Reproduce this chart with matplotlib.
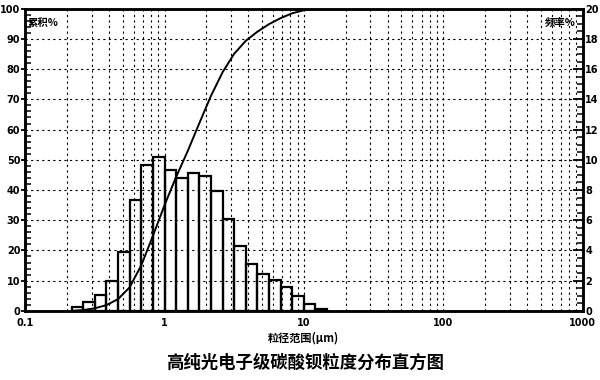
import matplotlib
matplotlib.use('Agg')
import matplotlib.pyplot as plt
from matplotlib.ticker import FixedLocator, MultipleLocator, NullFormatter
import numpy as np

plt.rcParams['font.family'] = ['Noto Sans CJK SC', 'DejaVu Sans']

# bin edges of the histogram (um), 12 bins per decade
edges = [0.215, 0.261, 0.316, 0.383, 0.464, 0.562, 0.681, 0.825, 1.0, 1.21,
         1.47, 1.78, 2.15, 2.61, 3.16, 3.83, 4.64, 5.62, 6.81, 8.25, 10.0,
         12.1, 14.7]
# frequency % per bin (right axis)
freq = [0.25, 0.6, 1.07, 1.95, 3.88, 7.35, 9.65, 10.2, 9.32, 8.77, 9.12,
        8.9, 7.96, 6.05, 4.28, 3.09, 2.43, 2.04, 1.56, 0.99, 0.44, 0.1]
# cumulative % at the bin edges (left axis)
cumul = [0, 0.25, 0.85, 1.9, 3.9, 7.8, 15.1, 24.8, 35.0, 44.3, 53.0, 62.2,
         71.1, 79.0, 85.1, 89.4, 92.4, 94.9, 96.9, 98.5, 99.5, 99.9, 100]

x_ticks = [0.1, 1, 10, 100, 1000]
x_labels = ['0.1', '1', '10', '100', '1000']

fig = plt.figure(figsize=(6, 3.8), dpi=100)
ax = fig.add_axes([0.042, 0.182, 0.929, 0.795])
ax2 = ax.twinx()

# histogram on the frequency axis
lefts = np.array(edges[:-1])
widths = np.array(edges[1:]) - lefts
ax2.bar(lefts, freq, width=widths, align='edge', fill=False,
        edgecolor='black', linewidth=1.6)

# cumulative curve
ax.plot(edges, cumul, color='black', linewidth=1.4, solid_joinstyle='round')

ax.set_xscale('log')
ax.set_xlim(0.1, 1000)
ax.set_ylim(0, 100)
ax2.set_ylim(0, 20)

ax.xaxis.set_major_locator(FixedLocator(x_ticks))
ax.set_xticklabels(x_labels)
minors = [m * 10.0 ** d for d in range(-1, 3) for m in range(2, 10)]
ax.xaxis.set_minor_locator(FixedLocator(minors))
ax.xaxis.set_minor_formatter(NullFormatter())
ax.tick_params(axis='x', which='both', length=0, pad=5)

ax.yaxis.set_major_locator(MultipleLocator(10))
ax.yaxis.set_minor_locator(MultipleLocator(2))
ax.tick_params(axis='y', which='major', direction='out', length=3, width=1.3, pad=0.5)
ax.tick_params(axis='y', which='minor', direction='in', length=4, width=1.1)

ax2.yaxis.set_major_locator(MultipleLocator(2))
ax2.yaxis.set_minor_locator(MultipleLocator(0.5))
ax2.tick_params(axis='y', which='major', direction='in', length=7, width=1.3, pad=2)
ax2.tick_params(axis='y', which='minor', direction='in', length=4, width=1.1)

for lab in ax.get_xticklabels() + ax.get_yticklabels() + ax2.get_yticklabels():
    lab.set_fontsize(7)
    lab.set_fontweight('bold')
    lab.set_family('DejaVu Sans')

ax.grid(True, axis='x', which='both', color='black', linestyle=(0, (2, 3)), linewidth=0.8)
ax.grid(True, axis='y', which='major', color='black', linestyle=(0, (2, 3)), linewidth=0.8)

for a in (ax, ax2):
    for s in a.spines.values():
        s.set_linewidth(1.8)

ax.text(0.004, 0.968, '累积%', transform=ax.transAxes, fontsize=7.5,
        fontweight='bold', ha='left', va='top')
ax.text(0.987, 0.968, '频率%', transform=ax.transAxes, fontsize=7.5,
        fontweight='bold', ha='right', va='top')

ax.set_xlabel('粒径范围(μm)', fontsize=8, fontweight='bold', labelpad=3)
fig.text(0.508, 0.045, '高纯光电子级碳酸钡粒度分布直方图', fontsize=12.5,
         fontweight='bold', ha='center', va='center')

fig.savefig('out.png', dpi=100, facecolor='white')
